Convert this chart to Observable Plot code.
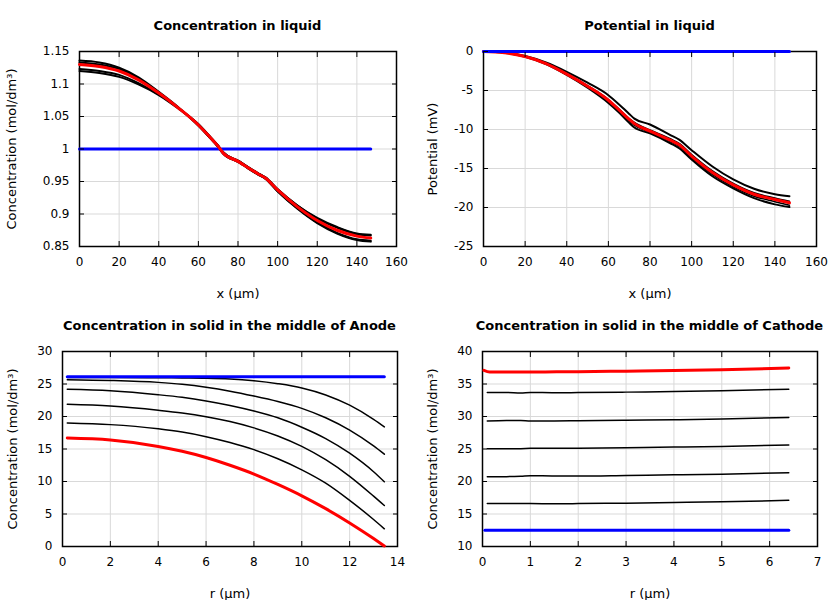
<!DOCTYPE html>
<html><head><meta charset="utf-8">
<script src="https://cdn.jsdelivr.net/npm/d3@7"></script>
<script src="https://cdn.jsdelivr.net/npm/@observablehq/plot@0.6"></script>
<style>
body{margin:0;background:#fff;font-family:"DejaVu Sans",sans-serif;}
#wrap{position:relative;width:840px;height:600px;overflow:hidden;}
.panel{position:absolute;width:420px;height:300px;}
.title{position:absolute;font-family:"DejaVu Sans",sans-serif;font-weight:bold;font-size:13px;line-height:16px;white-space:nowrap;transform:translateX(-50%);color:#000;}
</style></head><body><div id="wrap"></div>
<script>
// ---------- Concentration in liquid ----------
const liqX = [0,10,20,30,40,50,60,65,70,72.5,80,90,94,100,110,120,130,140,147];
const liqConcRed = [1.130,1.127,1.120,1.106,1.086,1.063,1.037,1.021,1.004,0.994,0.981,0.962,0.955,0.937,0.911,0.890,0.875,0.866,0.863];
const liqConcA = [1.136,1.133,1.125,1.110,1.088,1.064,1.036,1.020,1.003,0.993,0.980,0.961,0.954,0.935,0.908,0.886,0.870,0.860,0.8575];
const liqConcB = [1.133,1.130,1.123,1.108,1.087,1.063,1.036,1.020,1.003,0.993,0.980,0.961,0.954,0.935,0.909,0.887,0.871,0.861,0.859];
const liqConcC = [1.123,1.120,1.114,1.101,1.084,1.063,1.038,1.022,1.005,0.995,0.982,0.963,0.956,0.938,0.913,0.893,0.879,0.869,0.867];
const liqConcD = [1.120,1.117,1.111,1.099,1.083,1.062,1.038,1.022,1.005,0.995,0.982,0.963,0.956,0.938,0.913,0.894,0.880,0.870,0.868];
const liqBlueX = [0,147];
const liqConcBlue = [1,1];

// ---------- Potential in liquid ----------
const potRed = [0,-0.15,-0.65,-1.55,-2.9,-4.45,-6.25,-7.45,-8.7,-9.25,-10.2,-11.4,-11.95,-13.4,-15.5,-17.1,-18.3,-18.97,-19.4];
const potA = [0,-0.13,-0.58,-1.4,-2.6,-4.0,-5.6,-6.75,-8.0,-8.6,-9.36,-10.75,-11.3,-12.65,-14.75,-16.4,-17.6,-18.3,-18.55];
const potB = [0,-0.15,-0.64,-1.52,-2.85,-4.38,-6.15,-7.35,-8.6,-9.1,-10.05,-11.22,-11.78,-13.2,-15.3,-16.9,-18.1,-18.78,-19.2];
const potC = [0,-0.15,-0.66,-1.58,-2.95,-4.52,-6.4,-7.6,-8.9,-9.45,-10.38,-11.6,-12.15,-13.6,-15.75,-17.35,-18.55,-19.25,-19.7];
const potD = [0,-0.16,-0.68,-1.62,-3.0,-4.65,-6.6,-7.8,-9.15,-9.75,-10.5,-11.8,-12.4,-13.85,-16.0,-17.55,-18.8,-19.6,-19.95];
const potBlue = [0,0];

// ---------- Anode solid ----------
const anR = [0.2,2,4,5,6,7,8,9,10,11,12,13,13.45];
const anA = [26.0,25.99,25.97,25.94,25.9,25.78,25.5,25.05,24.4,23.32,21.74,19.56,18.4];
const anB = [25.67,25.55,25.25,24.95,24.5,23.9,23.15,22.3,21.25,19.8,17.9,15.47,14.2];
const anC = [24.18,23.95,23.35,22.95,22.4,21.7,20.85,19.8,18.35,16.6,14.35,11.5,9.95];
const anD = [21.87,21.6,20.96,20.54,19.97,19.22,18.25,17.0,15.4,13.35,10.8,7.75,6.3];
const anE = [19.0,18.75,18.1,17.6,16.9,16.0,14.9,13.5,11.8,9.75,7.1,4.15,2.72];
const anRed = [16.68,16.38,15.4,14.65,13.7,12.5,11.15,9.55,7.8,5.82,3.62,1.22,0.08];
const anBlueR = [0.2,13.45];
const anBlue = [26.1,26.1];

// ---------- Cathode solid ----------
const caRedR = [0.03,0.15,1,2,3,4,5,6.4];
const caRed = [37.1,36.85,36.85,36.9,36.97,37.07,37.2,37.45];
const caR = [0.1,0.5,0.8,1,1.5,2,3,4,5,6.4];
const caA = [33.7,33.7,33.62,33.7,33.65,33.68,33.75,33.83,33.95,34.2];
const caB = [29.3,29.38,29.38,29.32,29.32,29.35,29.42,29.5,29.6,29.85];
const caC = [25.05,25.05,25.05,25.1,25.1,25.12,25.2,25.3,25.4,25.6];
const caD = [20.75,20.75,20.8,20.9,20.85,20.85,20.93,21.02,21.12,21.35];
const caE = [16.6,16.6,16.6,16.6,16.58,16.6,16.67,16.78,16.88,17.1];
const caBlueR = [0.05,6.4];
const caBlue = [12.5,12.5];

// ---------- ticks ----------
const liqXTicks = [0,20,40,60,80,100,120,140,160];
const liqConcTicks = [0.85,0.9,0.95,1,1.05,1.1,1.15];
const potTicks = [-25,-20,-15,-10,-5,0];
const anXTicks = [0,2,4,6,8,10,12,14];
const anYTicks = [0,5,10,15,20,25,30];
const caXTicks = [0,1,2,3,4,5,6,7];
const caYTicks = [10,15,20,25,30,35,40];

const BLACK = "#000", RED = "#ff0000", BLUE = "#0000ff";
function pts(xs, ys) { return xs.map((x, i) => ({x, y: ys[i]})); }

function panel(cfg) {
  const fmt = d => String(d);
  const marks = [
    Plot.gridX(cfg.xTicks, {stroke: "#d9d9d9", strokeOpacity: 1}),
    Plot.gridY(cfg.yTicks, {stroke: "#d9d9d9", strokeOpacity: 1}),
    Plot.frame({stroke: "#000", strokeWidth: 1.5}),
    ...cfg.series.map(s => Plot.line(pts(s.x, s.y), {x: "x", y: "y", stroke: s.color, strokeWidth: s.w, curve: "monotone-x"})),
    Plot.axisX(cfg.xTicks, {anchor: "bottom", tickSize: -5, tickPadding: 16, tickFormat: fmt, fontSize: 12, label: null, stroke: "#000"}),
    Plot.axisX(cfg.xTicks, {anchor: "top", tickSize: -5, tickFormat: () => "", label: null, stroke: "#000"}),
    Plot.axisY(cfg.yTicks, {anchor: "left", tickSize: -5, tickPadding: 15, tickFormat: fmt, fontSize: 12, label: null, stroke: "#000"}),
    Plot.axisY(cfg.yTicks, {anchor: "right", tickSize: -5, tickFormat: () => "", label: null, stroke: "#000"}),
    Plot.axisX([], {anchor: "bottom", tickSize: 0, fontSize: 13, label: cfg.xLabel, labelAnchor: "center", labelArrow: "none", labelOffset: 51}),
    Plot.axisY([], {anchor: "left", tickSize: 0, fontSize: 13, label: cfg.yLabel, labelAnchor: "center", labelArrow: "none", labelOffset: cfg.yLabelOffset})
  ];
  const svg = Plot.plot({
    width: 420, height: 300,
    marginLeft: cfg.mL, marginRight: cfg.mR, marginTop: 51, marginBottom: 54,
    x: {domain: cfg.xDomain},
    y: {domain: cfg.yDomain},
    style: {fontFamily: "DejaVu Sans, sans-serif", fontSize: "12px", color: "#000", background: "transparent"},
    marks
  });
  const div = document.createElement("div");
  div.className = "panel";
  div.style.left = cfg.left + "px";
  div.style.top = cfg.top + "px";
  div.appendChild(svg);
  const t = document.createElement("div");
  t.className = "title";
  t.textContent = cfg.title;
  t.style.left = (cfg.mL + (420 - cfg.mL - cfg.mR) / 2) + "px";
  t.style.top = "18px";
  div.appendChild(t);
  document.getElementById("wrap").appendChild(div);
}

panel({
  left: 0, top: 0, mL: 79, mR: 24,
  xDomain: [0, 160], yDomain: [0.85, 1.15], xTicks: liqXTicks, yTicks: liqConcTicks,
  title: "Concentration in liquid", xLabel: "x (µm)", yLabel: "Concentration (mol/dm³)", yLabelOffset: 73,
  series: [
    {x: liqX, y: liqConcA, color: BLACK, w: 2},
    {x: liqX, y: liqConcB, color: BLACK, w: 2},
    {x: liqX, y: liqConcC, color: BLACK, w: 2},
    {x: liqX, y: liqConcD, color: BLACK, w: 2},
    {x: liqBlueX, y: liqConcBlue, color: BLUE, w: 3},
    {x: liqX, y: liqConcRed, color: RED, w: 3}
  ]
});
panel({
  left: 420, top: 0, mL: 63, mR: 24,
  xDomain: [0, 160], yDomain: [-25, 0], xTicks: liqXTicks, yTicks: potTicks,
  title: "Potential in liquid", xLabel: "x (µm)", yLabel: "Potential (mV)", yLabelOffset: 56,
  series: [
    {x: liqX, y: potA, color: BLACK, w: 2},
    {x: liqX, y: potB, color: BLACK, w: 1.5},
    {x: liqX, y: potC, color: BLACK, w: 1.5},
    {x: liqX, y: potD, color: BLACK, w: 2},
    {x: liqX, y: potRed, color: RED, w: 3},
    {x: liqBlueX, y: potBlue, color: BLUE, w: 3}
  ]
});
panel({
  left: 0, top: 300, mL: 62, mR: 23,
  xDomain: [0, 14], yDomain: [0, 30], xTicks: anXTicks, yTicks: anYTicks,
  title: "Concentration in solid in the middle of Anode", xLabel: "r (µm)", yLabel: "Concentration (mol/dm³)", yLabelOffset: 55,
  series: [
    {x: anR, y: anA, color: BLACK, w: 1.5},
    {x: anR, y: anB, color: BLACK, w: 1.5},
    {x: anR, y: anC, color: BLACK, w: 1.5},
    {x: anR, y: anD, color: BLACK, w: 1.5},
    {x: anR, y: anE, color: BLACK, w: 1.5},
    {x: anBlueR, y: anBlue, color: BLUE, w: 3},
    {x: anR, y: anRed, color: RED, w: 3}
  ]
});
panel({
  left: 420, top: 300, mL: 62, mR: 23,
  xDomain: [0, 7], yDomain: [10, 40], xTicks: caXTicks, yTicks: caYTicks,
  title: "Concentration in solid in the middle of Cathode", xLabel: "r (µm)", yLabel: "Concentration (mol/dm³)", yLabelOffset: 55,
  series: [
    {x: caR, y: caA, color: BLACK, w: 1.5},
    {x: caR, y: caB, color: BLACK, w: 1.5},
    {x: caR, y: caC, color: BLACK, w: 1.5},
    {x: caR, y: caD, color: BLACK, w: 1.5},
    {x: caR, y: caE, color: BLACK, w: 1.5},
    {x: caBlueR, y: caBlue, color: BLUE, w: 3},
    {x: caRedR, y: caRed, color: RED, w: 3}
  ]
});
</script></body></html>
